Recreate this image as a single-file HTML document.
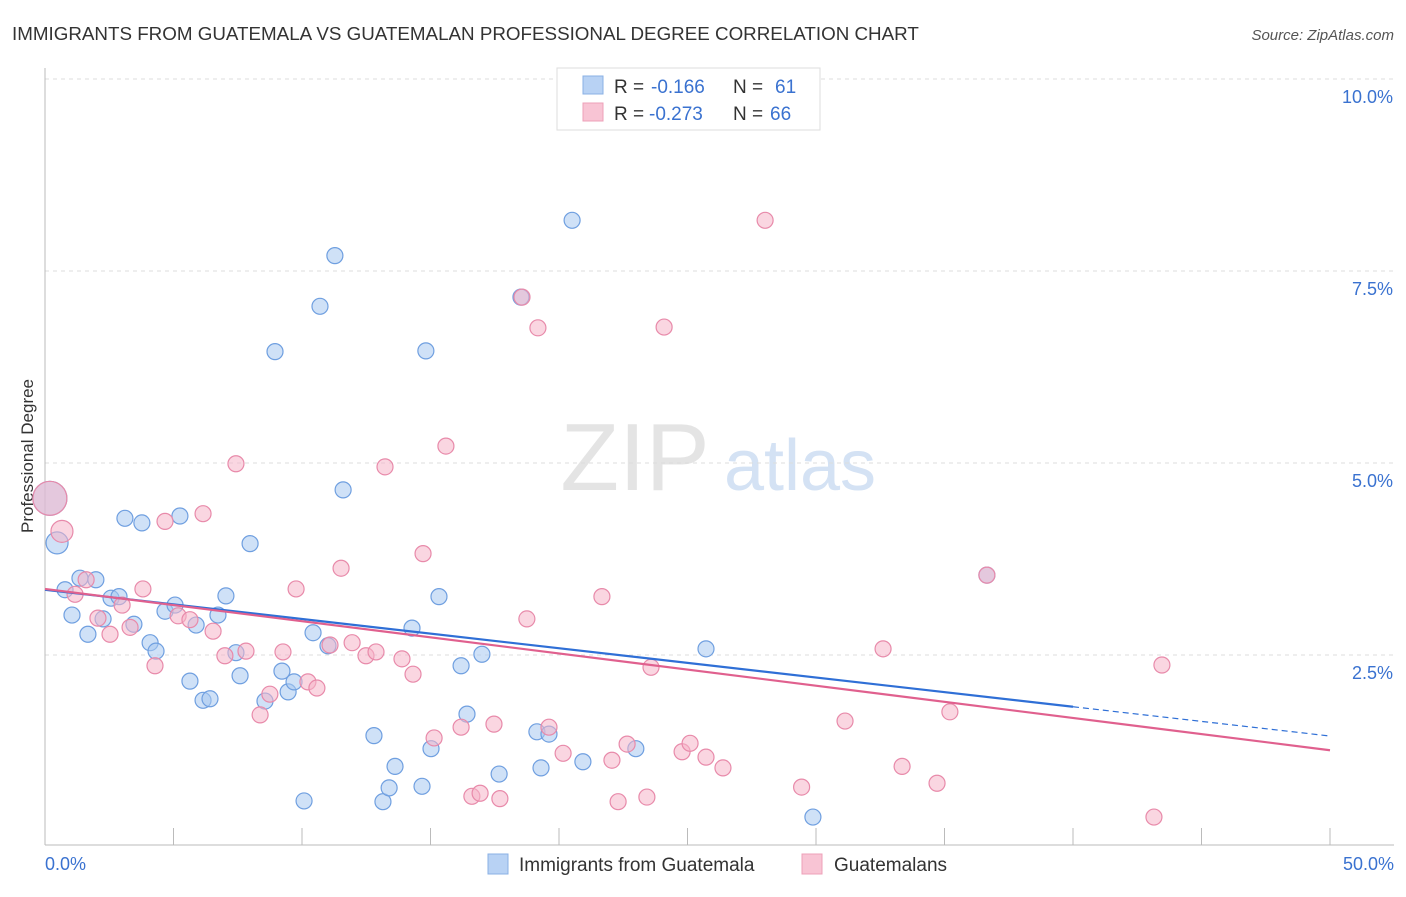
<!DOCTYPE html>
<html><head><meta charset="utf-8"><style>
body{margin:0;background:#fff;font-family:"Liberation Sans",sans-serif;}
svg text{font-family:"Liberation Sans",sans-serif;}
</style></head><body>
<svg width="1406" height="892" xmlns="http://www.w3.org/2000/svg" id="c">
<text x="12" y="40" font-size="18.8" fill="#333">IMMIGRANTS FROM GUATEMALA VS GUATEMALAN PROFESSIONAL DEGREE CORRELATION CHART</text>
<text x="1394" y="40" font-size="15" fill="#555" text-anchor="end" font-style="italic">Source: ZipAtlas.com</text>
<text transform="translate(33,456) rotate(-90)" font-size="17" fill="#333" text-anchor="middle">Professional Degree</text>
<g><text x="635" y="490" font-size="96" fill="#e4e4e4" text-anchor="middle" font-family="Liberation Serif">ZIP</text><text x="800" y="490" font-size="72" fill="#d4e2f4" text-anchor="middle">atlas</text></g>
<g id="grid"></g><g id="marks"></g>
<g>
<rect x="557" y="68" width="263" height="62" fill="#fff" stroke="#ddd"/>
<rect x="583" y="76" width="20" height="18" fill="#b8d2f4" stroke="#8ab0e4"/>
<rect x="583" y="103" width="20" height="18" fill="#f8c4d4" stroke="#eea0b8"/>
<text x="614" y="93" font-size="19" fill="#333">R =</text><text x="651" y="93" font-size="19" fill="#3a72d0">-0.166</text>
<text x="733" y="93" font-size="19" fill="#333">N =</text><text x="775" y="93" font-size="19" fill="#3a72d0">61</text>
<text x="614" y="120" font-size="19" fill="#333">R =</text><text x="649" y="120" font-size="19" fill="#3a72d0">-0.273</text>
<text x="733" y="120" font-size="19" fill="#333">N =</text><text x="770" y="120" font-size="19" fill="#3a72d0">66</text>
</g>
<g>
<rect x="488" y="854" width="20" height="20" fill="#b8d2f4" stroke="#8ab0e4"/>
<text x="519" y="871" font-size="19" fill="#333">Immigrants from Guatemala</text>
<rect x="802" y="854" width="20" height="20" fill="#f8c4d4" stroke="#eea0b8"/>
<text x="834" y="871" font-size="19" fill="#333">Guatemalans</text>
</g>
</svg>
<script>
const blueX=[0.19,0.47,0.78,1.05,1.36,1.67,1.98,2.26,2.57,2.88,3.11,3.46,3.77,4.09,4.32,4.67,5.06,5.25,5.64,5.88,6.15,6.42,6.73,7.04,7.43,7.59,7.98,8.56,8.95,9.22,9.46,9.69,10.08,10.43,10.70,11.01,11.28,11.60,12.80,13.15,13.39,13.62,14.28,14.67,14.82,15.02,15.33,16.19,16.42,17.00,17.67,18.52,19.14,19.30,19.61,20.51,20.93,22.99,25.72,29.88,36.65];
const blueY=[4.54,3.96,3.35,3.02,3.50,2.77,3.48,2.97,3.24,3.26,4.28,2.90,4.22,2.66,2.55,3.07,3.15,4.31,2.16,2.89,1.91,1.93,3.02,3.27,2.53,2.23,3.95,1.90,6.45,2.29,2.02,2.15,0.60,2.79,7.04,2.62,7.70,4.65,1.45,0.59,0.77,1.05,2.85,0.79,6.46,1.28,3.26,2.36,1.73,2.51,0.95,7.16,1.50,1.03,1.47,8.16,1.11,1.28,2.58,0.39,3.54];
const pinkX=[0.19,0.66,1.17,1.60,2.06,2.53,3.00,3.31,3.81,4.28,4.67,5.18,5.64,6.15,6.54,7.00,7.43,7.82,8.37,8.75,9.26,9.77,10.23,10.58,11.09,11.52,11.95,12.49,12.88,13.23,13.89,14.32,14.71,15.14,15.60,16.19,16.61,16.93,17.47,17.70,18.56,18.75,19.18,19.61,20.16,21.67,22.06,22.30,22.65,23.42,23.58,24.09,24.79,25.10,25.72,26.38,28.02,29.44,31.13,32.61,33.35,34.71,35.21,36.65,43.15,43.46];
const pinkY=[4.54,4.11,3.29,3.48,2.98,2.77,3.15,2.86,3.36,2.36,4.24,3.01,2.96,4.34,2.81,2.49,4.99,2.55,1.72,1.99,2.54,3.36,2.15,2.07,2.63,3.63,2.66,2.49,2.54,4.95,2.45,2.25,3.82,1.42,5.22,1.56,0.66,0.70,1.60,0.63,7.16,2.97,6.76,1.56,1.22,3.26,1.13,0.59,1.34,0.65,2.34,6.77,1.24,1.35,1.17,1.03,8.16,0.78,1.64,2.58,1.05,0.83,1.76,3.54,0.39,2.37];
const blueTrend=[3.35,-0.0381];
const pinkTrend=[3.36,-0.042];
const yTicks=[2.5,5.0,7.5,10.0];
const xTickLabels=["0.0%","50.0%"];
const X=v=>45+v*25.7, Y=v=>847-v*76.8;
const NS="http://www.w3.org/2000/svg";
const g=document.getElementById('grid'), m=document.getElementById('marks');
function el(t,a,p){const e=document.createElementNS(NS,t);for(const k in a)e.setAttribute(k,a[k]);p.appendChild(e);return e;}
yTicks.forEach(t=>{
 const l=el('line',{x1:45,x2:1394,y1:Y(t),y2:Y(t),stroke:'#ddd','stroke-dasharray':'4,4'},g);
 
 
 const tx=el('text',{x:1393,y:Y(t)+24,'font-size':18,fill:'#3a72d0','text-anchor':'end'},g);
 tx.textContent=t.toFixed(1)+'%';
 
 
});
const ax=el('line',{x1:45,x2:45,y1:68,y2:845,stroke:'#bbb'},g);


const bx=el('line',{x1:45,x2:1394,y1:845,y2:845,stroke:'#bbb'},g);


for(let i=0;i<=10;i++){const t=el('line',{x1:X(i*5),x2:X(i*5),y1:828,y2:845,stroke:'#bbb'},g);
 
 }
[[0,'start',45],[50,'end',1394]].forEach((d,i)=>{const t=el('text',{x:d[2],y:870,'font-size':18,fill:'#3a72d0','text-anchor':d[1]},g);t.textContent=xTickLabels[i];
 
 });
function pts(xs,ys,fill,stroke,name,big){xs.forEach((x,i)=>{const c=el('circle',{cx:X(x),cy:Y(ys[i]),r:i==0?17:(i==1?11:8),fill:fill,'fill-opacity':0.55,stroke:stroke,'stroke-width':1.2},m);
 
 });}
pts(blueX,blueY,'#a8c8f0','#6f9fe0','guatemala-immigrant-point');
pts(pinkX,pinkY,'#f6b4c8','#e88aaa','guatemalan-point');
const Ty=(t,x)=>Y(t[0]+t[1]*x);
const l1=el('line',{x1:X(0),y1:Ty(blueTrend,0),x2:X(40),y2:Ty(blueTrend,40),stroke:'#2f6fd6','stroke-width':2.2},m);


const l2=el('line',{x1:X(40),y1:Ty(blueTrend,40),x2:X(50),y2:Ty(blueTrend,50),stroke:'#2f6fd6','stroke-width':1.2,'stroke-dasharray':'6,4'},m);


const l3=el('line',{x1:X(0),y1:Ty(pinkTrend,0),x2:X(50),y2:Ty(pinkTrend,50),stroke:'#e0608e','stroke-width':2.2},m);


</script>
</body></html>
